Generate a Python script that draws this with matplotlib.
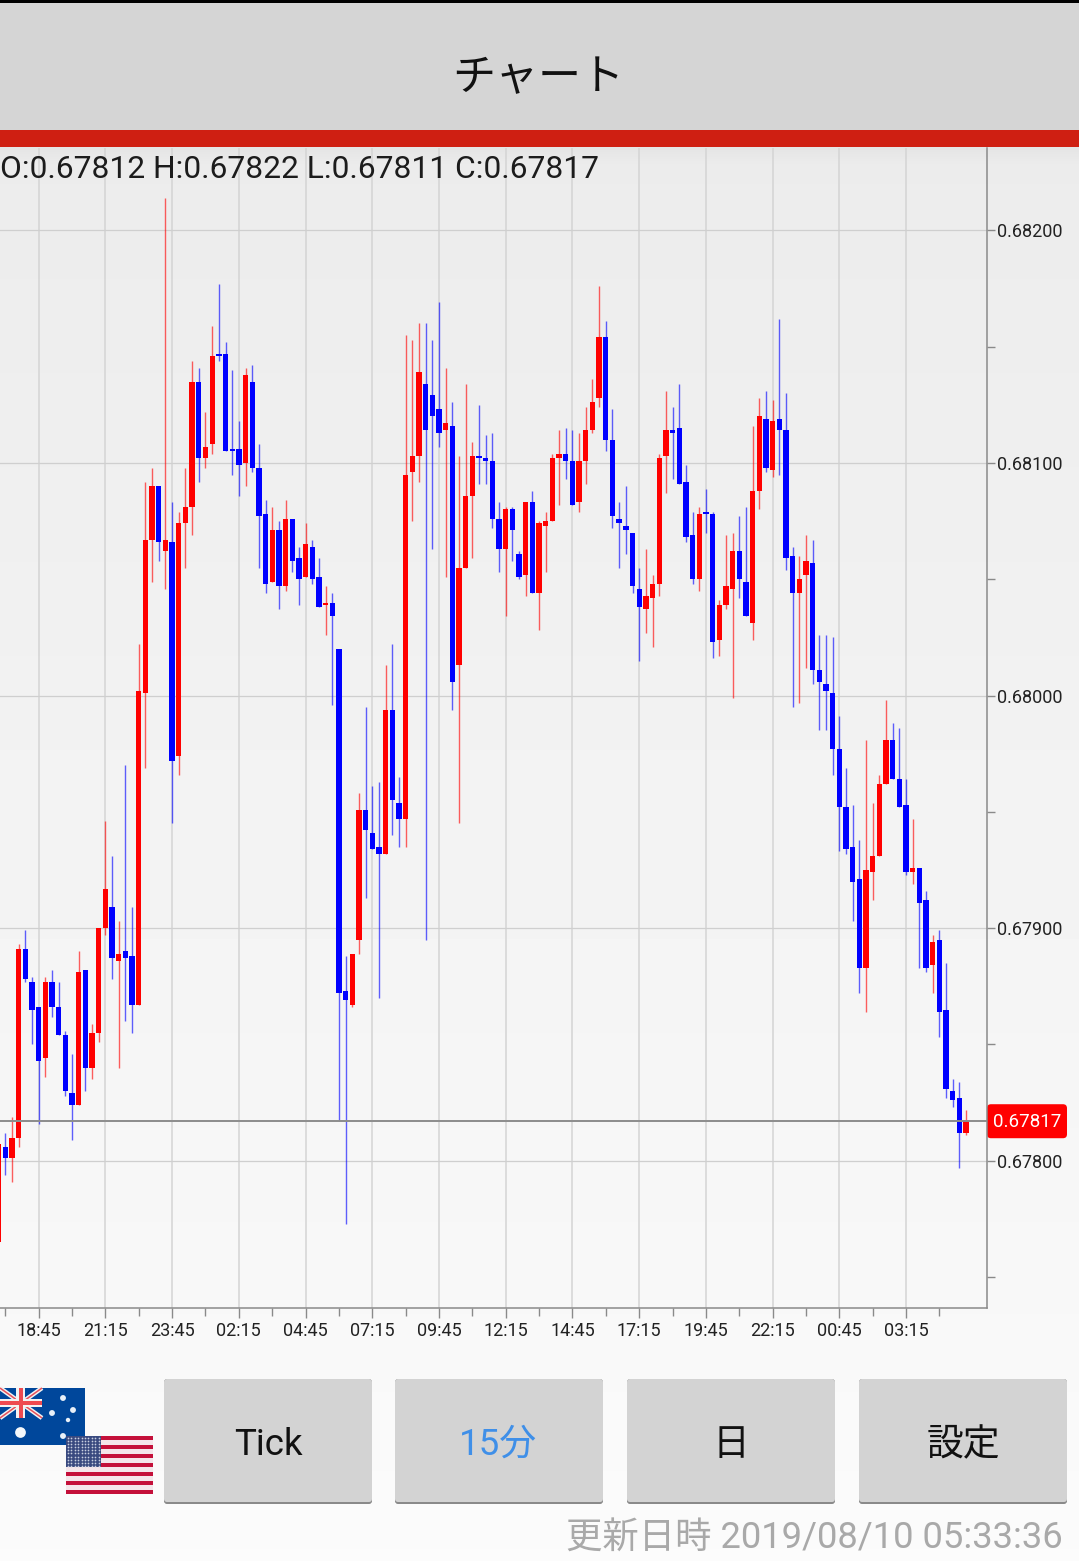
"""AUD/USD 15分足チャート画面の再現."""

import matplotlib

matplotlib.use("Agg")

import matplotlib.pyplot as plt
import numpy as np
from matplotlib.axes import Axes
from matplotlib.patches import FancyBboxPatch, Rectangle
from matplotlib.ticker import FormatStrFormatter, MultipleLocator

plt.rcParams["font.family"] = ["Roboto", "Noto Sans CJK JP", "DejaVu Sans"]

WIDTH: int = 1079
HEIGHT: int = 1561

# 1 point = 0.00001
open_points = [
    67765, 67806, 67801, 67810, 67891, 67877, 67866, 67844, 67877, 67866,
    67854, 67829, 67824, 67882, 67840, 67855, 67900, 67909, 67886, 67890,
    67888, 67867, 68001, 68067, 68090, 68062, 68066, 67974, 68074, 68081,
    68135, 68102, 68108, 68147, 68147, 68106, 68106, 68100, 68135, 68098,
    68078, 68049, 68071, 68047, 68076, 68059, 68051, 68064, 68051, 68039,
    68040, 68020, 67873, 67867, 67895, 67951, 67941, 67935, 67932, 67994,
    67954, 67947, 68096, 68103, 68134, 68129, 68123, 68114, 68116, 68013,
    68055, 68086, 68103, 68102, 68101, 68076, 68063, 68080, 68061, 68052,
    68083, 68044, 68073, 68075, 68102, 68104, 68101, 68083, 68101, 68114,
    68128, 68154, 68110, 68076, 68073, 68070, 68046, 68037, 68042, 68048,
    68103, 68114, 68115, 68092, 68069, 68050, 68079, 68078, 68024, 68039,
    68046, 68062, 68049, 68031, 68088, 68119, 68097, 68119, 68114, 68060,
    68044, 68052, 68057, 68011, 68005, 68001, 67977, 67952, 67935, 67921,
    67883, 67924, 67931, 67962, 67981, 67964, 67953, 67924, 67926, 67912,
    67884, 67895, 67865, 67830, 67827, 67812,
]
high_points = [
    67807, 67812, 67819, 67893, 67899, 67879, 67866, 67879, 67882, 67877,
    67856, 67846, 67890, 67882, 67859, 67900, 67946, 67931, 67903, 67970,
    67909, 68022, 68092, 68098, 68090, 68214, 68083, 68079, 68098, 68144,
    68141, 68122, 68159, 68177, 68152, 68140, 68118, 68141, 68142, 68108,
    68084, 68081, 68075, 68084, 68076, 68064, 68074, 68067, 68059, 68047,
    68044, 68020, 67888, 67889, 67958, 67995, 67961, 67963, 68013, 68022,
    67965, 68155, 68153, 68160, 68160, 68153, 68169, 68141, 68126, 68103,
    68134, 68109, 68125, 68112, 68113, 68083, 68081, 68081, 68062, 68083,
    68088, 68075, 68079, 68104, 68114, 68115, 68114, 68113, 68124, 68136,
    68176, 68161, 68123, 68083, 68090, 68070, 68055, 68063, 68052, 68104,
    68131, 68124, 68134, 68099, 68079, 68081, 68089, 68079, 68041, 68069,
    68070, 68077, 68081, 68116, 68128, 68131, 68127, 68162, 68130, 68064,
    68060, 68069, 68067, 68026, 68026, 68025, 67991, 67969, 67953, 67938,
    67981, 67954, 67966, 67998, 67988, 67986, 67964, 67947, 67926, 67916,
    67897, 67899, 67885, 67835, 67834, 67822,
]
low_points = [
    67765, 67794, 67791, 67806, 67877, 67850, 67816, 67836, 67862, 67854,
    67828, 67809, 67824, 67830, 67835, 67851, 67897, 67878, 67840, 67860,
    67855, 67867, 67969, 68049, 68058, 68046, 67945, 67966, 68055, 68069,
    68092, 68098, 68104, 68144, 68105, 68095, 68086, 68090, 68096, 68055,
    68044, 68049, 68037, 68045, 68053, 68039, 68051, 68048, 68038, 68026,
    67996, 67817, 67773, 67866, 67889, 67913, 67934, 67870, 67932, 67940,
    67935, 67935, 68075, 68092, 67895, 68063, 68107, 68051, 67994, 67945,
    68055, 68059, 68091, 68091, 68072, 68053, 68034, 68058, 68050, 68043,
    68044, 68028, 68053, 68075, 68082, 68093, 68082, 68079, 68091, 68113,
    68124, 68105, 68072, 68055, 68061, 68044, 68015, 68027, 68021, 68043,
    68087, 68093, 68091, 68066, 68048, 68045, 68070, 68016, 68017, 68037,
    67999, 68042, 68034, 68024, 68080, 68096, 68094, 68095, 68054, 67995,
    67997, 68012, 68005, 67985, 67985, 67966, 67933, 67932, 67903, 67872,
    67864, 67912, 67931, 67962, 67964, 67952, 67923, 67919, 67883, 67881,
    67872, 67853, 67827, 67823, 67797, 67811,
]
close_points = [
    67807, 67801, 67810, 67891, 67878, 67865, 67843, 67877, 67866, 67854,
    67830, 67824, 67881, 67840, 67855, 67900, 67917, 67887, 67889, 67887,
    67867, 68002, 68067, 68090, 68066, 68067, 67972, 68074, 68081, 68135,
    68102, 68107, 68146, 68146, 68105, 68105, 68099, 68138, 68098, 68077,
    68048, 68071, 68047, 68076, 68058, 68050, 68065, 68050, 68038, 68040,
    68034, 67872, 67869, 67889, 67951, 67942, 67934, 67932, 67994, 67955,
    67947, 68095, 68103, 68139, 68114, 68120, 68113, 68117, 68006, 68055,
    68086, 68103, 68102, 68101, 68076, 68063, 68080, 68071, 68051, 68083,
    68044, 68074, 68075, 68102, 68104, 68101, 68082, 68101, 68114, 68126,
    68154, 68110, 68077, 68074, 68071, 68047, 68038, 68043, 68048, 68102,
    68114, 68113, 68091, 68068, 68050, 68078, 68078, 68023, 68039, 68047,
    68062, 68050, 68034, 68088, 68120, 68098, 68118, 68114, 68059, 68044,
    68050, 68058, 68011, 68006, 68002, 67977, 67952, 67934, 67920, 67883,
    67925, 67931, 67962, 67981, 67964, 67952, 67924, 67926, 67911, 67883,
    67894, 67864, 67831, 67826, 67812, 67817,
]
first_candle: int = -6  # 18:45 の足を 0 とした番号
time_labels = [
    "18:45", "21:15", "23:45", "02:15", "04:45", "07:15", "09:45",
    "12:15", "14:45", "17:15", "19:45", "22:15", "00:45", "03:15",
]
ohlc_text: str = "O:0.67812 H:0.67822 L:0.67811 C:0.67817"
button_labels = ["Tick", "15分", "日", "設定"]
updated_text: str = "更新日時 2019/08/10 05:33:36"


def make_axes(fig: plt.Figure, left: float, top: float, right: float, bottom: float) -> Axes:
    """ピクセル座標で範囲を指定して Axes を作る."""
    return fig.add_axes((left / WIDTH, 1 - bottom / HEIGHT, (right - left) / WIDTH, (bottom - top) / HEIGHT))


def draw_flags(bg: Axes) -> None:
    """豪ドルと米ドルの国旗."""
    # Australia
    bg.add_patch(Rectangle((0, 1388), 85, 57, fc="#00479b", ec="none", zorder=2))
    bg.plot([0, 42], [1388, 1418], color="#f2f2f2", lw=3.2, zorder=3, solid_capstyle="butt")
    bg.plot([0, 42], [1418, 1388], color="#f2f2f2", lw=3.2, zorder=3, solid_capstyle="butt")
    bg.plot([0, 42], [1388, 1418], color="#e8505a", lw=1.1, zorder=3, solid_capstyle="butt")
    bg.plot([0, 42], [1418, 1388], color="#e8505a", lw=1.1, zorder=3, solid_capstyle="butt")
    bg.add_patch(Rectangle((0, 1399), 42, 8, fc="#f2f2f2", ec="none", zorder=3))
    bg.add_patch(Rectangle((16, 1388), 9, 30, fc="#f2f2f2", ec="none", zorder=3))
    bg.add_patch(Rectangle((0, 1401), 42, 4, fc="#ee4a50", ec="none", zorder=4))
    bg.add_patch(Rectangle((18.5, 1388), 4, 30, fc="#ee4a50", ec="none", zorder=4))
    bg.scatter([63, 73, 52, 68, 63], [1398, 1410, 1413, 1420, 1436], s=[18, 18, 18, 10, 18], c="#e8f0f8", lw=0, zorder=4)
    bg.scatter([20], [1432], s=60, c="#f4f8fb", lw=0, zorder=4)
    # USA
    stripe = 58 / 13
    bg.add_patch(Rectangle((66, 1436), 87, 58, fc="#f4e6ea", ec="none", zorder=5))
    for k in range(0, 13, 2):
        bg.add_patch(Rectangle((66, 1436 + k * stripe), 87, stripe, fc="#c4103a", ec="none", zorder=6))
    bg.add_patch(Rectangle((66, 1436), 35, 31, fc="#3a4a80", ec="none", zorder=7))
    dot_x, dot_y = np.meshgrid(np.arange(68, 101, 3.4), np.arange(1438, 1466, 3.1))
    bg.scatter(dot_x.ravel(), dot_y.ravel(), s=1.5, c="#c8cfe0", lw=0, zorder=8)


def draw_chrome(bg: Axes) -> None:
    """ヘッダー, ボタン, 更新日時など."""
    bg.add_patch(Rectangle((0, 0), WIDTH, 3, fc="black", ec="none", zorder=2))
    bg.add_patch(Rectangle((0, 3), WIDTH, 127, fc="#d5d5d5", ec="none", zorder=2))
    bg.add_patch(Rectangle((0, 130), WIDTH, 17, fc="#cf1f12", ec="none", zorder=2))
    bg.text(538, 79, "チャート", fontsize=31, ha="center", va="center", color="#111111", zorder=3)
    draw_flags(bg)

    lefts = [164, 395, 627, 859]
    centers = [268, 498, 731, 963]
    for left, center, label in zip(lefts, centers, button_labels):
        bg.add_patch(FancyBboxPatch((left + 2, 1381), 204, 121, boxstyle="round,pad=2,rounding_size=3",
                                    fc="#8a8a8a", ec="none", zorder=2))
        bg.add_patch(FancyBboxPatch((left + 2, 1381), 204, 119, boxstyle="round,pad=2,rounding_size=3",
                                    fc="#d3d3d3", ec="none", zorder=3))
        color = "#3f8fe8" if label == "15分" else "#111111"
        bg.text(center, 1445, label, fontsize=26.5, ha="center", va="center", color=color, zorder=4)
    bg.text(1063, 1539, updated_text, fontsize=26.2, ha="right", va="center", color="#a9a9a9", zorder=4)


def main() -> None:
    """Entry function."""
    fig = plt.figure(figsize=(WIDTH / 100, HEIGHT / 100), dpi=100, facecolor="#fafafa")

    # 背景のグラデーション
    bg = make_axes(fig, 0, 0, WIDTH, HEIGHT)
    bg.set_zorder(0)
    rows = np.arange(HEIGHT)
    shade = np.interp(rows, [147, 165, 1300, 1561], [0.895, 0.925, 0.972, 0.985])
    bg.imshow(shade[:, None], cmap="gray", vmin=0, vmax=1, aspect="auto", extent=(0, WIDTH, HEIGHT, 0), zorder=0)
    bg.set_xlim(0, WIDTH)
    bg.set_ylim(HEIGHT, 0)
    bg.axis("off")
    draw_chrome(bg)

    # チャート本体
    ax = make_axes(fig, 0, 148, 987, 1308)
    ax.set_zorder(1)
    ax.patch.set_visible(False)

    o = np.array(open_points) / 1e5
    h = np.array(high_points) / 1e5
    l = np.array(low_points) / 1e5
    c = np.array(close_points) / 1e5
    idx = first_candle + np.arange(len(c))
    up = c > o

    ax.vlines(idx[up], l[up], h[up], color="#ff0000", lw=1.0, alpha=0.62, zorder=3)
    ax.vlines(idx[~up], l[~up], h[~up], color="#0000ff", lw=1.0, alpha=0.62, zorder=3)
    ax.bar(idx[up], (c - o)[up], bottom=o[up], width=0.8, color="#ff0000", lw=0, zorder=4)
    ax.bar(idx[~up], (o - c)[~up], bottom=c[~up], width=0.8, color="#0000ff", lw=0, zorder=4)

    ax.axhline(c[-1], color="#8c8c8c", lw=1.4, zorder=5)

    ax.set_xlim(-5.80, 142.13)
    ax.set_ylim(0.677367, 0.682354)

    major = np.arange(len(time_labels)) * 10
    ax.set_xticks(major, labels=time_labels)
    ax.set_xticks(np.append(major - 5, major[-1] + 5), minor=True)
    ax.yaxis.set_major_locator(MultipleLocator(0.001))
    ax.yaxis.set_minor_locator(MultipleLocator(0.0005))
    ax.yaxis.set_major_formatter(FormatStrFormatter("%.5f"))
    ax.yaxis.tick_right()

    ax.tick_params(axis="x", which="major", length=7, width=1, color="#8a8a8a", labelsize=13, pad=3.3, labelcolor="#222222")
    ax.tick_params(axis="x", which="minor", length=5.5, width=1, color="#8a8a8a")
    ax.tick_params(axis="y", which="both", length=5.8, width=1, color="#8a8a8a", labelsize=13, pad=1.5, labelcolor="#222222")

    ax.grid(True, axis="x", which="major", color="#d4d4d4", lw=1.1, zorder=1)
    ax.grid(True, axis="y", which="major", color="#cfcfcf", lw=0.9, zorder=1)
    ax.set_axisbelow(True)
    for side in ("left", "top"):
        ax.spines[side].set_visible(False)
    for side in ("right", "bottom"):
        ax.spines[side].set_color("#8a8a8a")
        ax.spines[side].set_linewidth(1.1)

    # 現在値のラベル
    tag_y = HEIGHT - ax.transData.transform((0, c[-1]))[1]
    bg.add_patch(FancyBboxPatch((990, tag_y - 14), 74, 28, boxstyle="round,pad=3,rounding_size=4",
                                fc="#ff0000", ec="none", zorder=3))
    bg.text(1027.5, tag_y + 1, f"{c[-1]:.5f}", fontsize=13.5, ha="center", va="center", color="white", zorder=4)

    fig.text(0, 1 - 169 / HEIGHT, ohlc_text, fontsize=22.9, ha="left", va="center", color="#1c1c1c")

    fig.savefig("out.png", dpi=100, facecolor=fig.get_facecolor())


if __name__ == "__main__":
    main()
